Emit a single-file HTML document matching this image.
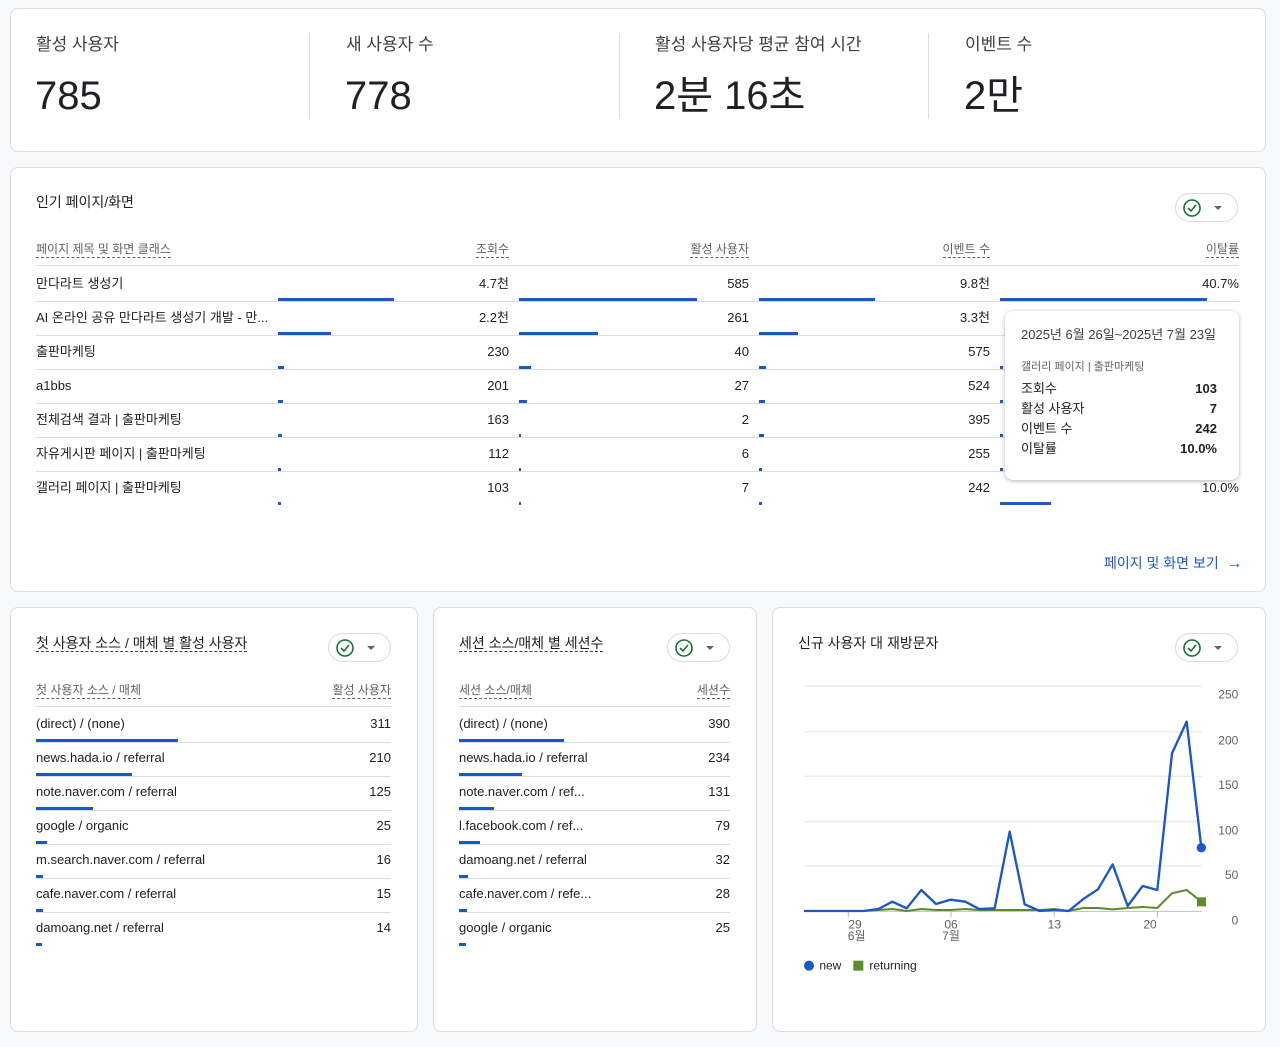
<!DOCTYPE html>
<html><head><meta charset="utf-8">
<style>
*{box-sizing:border-box;margin:0;padding:0}
body{width:1280px;height:1047px;background:#f8f9fa;font-family:"Liberation Sans","Noto Sans CJK KR",sans-serif;color:#202124;position:relative;overflow:hidden}
.card{position:absolute;background:#fff;border:1px solid #dadce0;border-radius:8px}
.abs{position:absolute;white-space:nowrap;line-height:18px;height:18px}
.lbl{font-size:17px;color:#3c4043}
.val{font-size:40px;color:#202124;line-height:44px;height:44px}
.vsep{position:absolute;width:1px;background:#dadce0}
.t{font-size:13px}
.h{font-size:12px;color:#5f6368;border-bottom:1px dashed #5f6368;padding-bottom:1px}
.hl{position:absolute;height:1px;background:#dadce0}
.bar{position:absolute;height:3px;background:#1a57c9}
.r{text-align:right}
.btn{position:absolute;width:63px;height:29px;border:1px solid #dadce0;border-radius:15px;background:#fff}
.tip{z-index:10}
</style></head><body>

<div class="card" style="left:10px;top:8px;width:1256px;height:144px"></div>
<div class="abs lbl" style="left:36px;top:36px">활성 사용자</div>
<div class="abs val" style="left:35px;top:74px">785</div>
<div class="vsep" style="left:309px;top:33px;height:86px"></div>
<div class="abs lbl" style="left:346px;top:36px">새 사용자 수</div>
<div class="abs val" style="left:345px;top:74px">778</div>
<div class="vsep" style="left:619px;top:33px;height:86px"></div>
<div class="abs lbl" style="left:655px;top:36px">활성 사용자당 평균 참여 시간</div>
<div class="abs val" style="left:654px;top:74px">2분 16초</div>
<div class="vsep" style="left:928px;top:33px;height:86px"></div>
<div class="abs lbl" style="left:965px;top:36px">이벤트 수</div>
<div class="abs val" style="left:964px;top:74px">2만</div>

<div class="card" style="left:10px;top:167px;width:1256px;height:425px"></div>
<div class="abs" style="left:36px;top:193px;font-size:14px">인기 페이지/화면</div>

<div class="card" style="left:10px;top:607px;width:408px;height:425px"></div>
<div class="card" style="left:433px;top:607px;width:324px;height:425px"></div>
<div class="card" style="left:772px;top:607px;width:494px;height:425px"></div>
<div class="abs" style="left:1104px;top:554px;font-size:14px;color:#1a57c9">페이지 및 화면 보기 &nbsp;<span style="font-size:16px">→</span></div>

<svg style="position:absolute;left:780px;top:680px" width="480" height="300" viewBox="0 0 1440 900">
<g stroke="#e8eaed" stroke-width="4">
<line x1="72" y1="18" x2="1265" y2="18"/><line x1="72" y1="155" x2="1265" y2="155"/><line x1="72" y1="289" x2="1265" y2="289"/><line x1="72" y1="425" x2="1265" y2="425"/><line x1="72" y1="558" x2="1265" y2="558"/></g>
<line x1="72" y1="694" x2="1265" y2="694" stroke="#c0c0c0" stroke-width="3"/>
<g stroke="#bbb" stroke-width="3"><line x1="205" y1="694" x2="205" y2="712"/><line x1="513" y1="694" x2="513" y2="712"/><line x1="823" y1="694" x2="823" y2="712"/><line x1="1132" y1="694" x2="1132" y2="712"/></g>
<polyline fill="none" stroke="#5b8a2f" stroke-width="6" points="72,693 250,693 295,690 337,687 380,693 424,687 468,690 512,690 556,687 598,690 779,690 824,687 866,693 910,684 954,684 998,688 1043,684 1088,681 1132,684 1176,640 1220,630 1264,665"/>
<polyline fill="none" stroke="#1a57c9" stroke-width="7" stroke-linejoin="round" points="72,693 250,693 295,687 337,665 380,685 424,630 468,672 512,659 556,665 598,687 644,685 689,455 734,673 779,693 824,690 866,693 910,657 954,628 998,553 1043,678 1088,618 1132,630 1176,220 1220,125 1264,503"/>
<circle cx="1264" cy="503" r="14" fill="#1a57c9"/>
<rect x="1251" y="652" width="27" height="27" fill="#5b8a2f"/>
<g font-family="Liberation Sans" font-size="36" fill="#5f6368" text-anchor="end">
<text x="1375" y="56">250</text><text x="1375" y="193">200</text><text x="1375" y="327">150</text><text x="1375" y="463">100</text><text x="1375" y="597">50</text><text x="1375" y="733">0</text></g>
<g font-family="Liberation Sans,Noto Sans CJK KR" font-size="36" fill="#5f6368" text-anchor="middle">
<text x="225" y="745">29</text><text x="230" y="780">6월</text><text x="513" y="745">06</text><text x="513" y="780">7월</text><text x="823" y="745">13</text><text x="1110" y="745">20</text></g>
<circle cx="87" cy="857" r="15" fill="#1a57c9"/><text x="118" y="869" font-family="Liberation Sans" font-size="36" fill="#202124">new</text>
<rect x="220" y="842" width="30" height="30" fill="#5b8a2f"/><text x="268" y="869" font-family="Liberation Sans" font-size="36" fill="#202124">returning</text>
</svg>
<div class="abs" style="left:798px;top:634px;font-size:14px">신규 사용자 대 재방문자</div>

<div class="card tip" style="left:1005px;top:311px;width:234px;height:169px;box-shadow:0 1px 4px rgba(0,0,0,.3);border:none"></div>
<div class="abs tip" style="left:1021px;top:326px;font-size:13px;color:#3c4043">2025년 6월 26일~2025년 7월 23일</div>
<div class="abs tip" style="left:1021px;top:358px;font-size:11px;color:#5f6368">갤러리 페이지 | 출판마케팅</div>
<div class="abs t tip" style="left:1021px;top:380px">조회수</div><div class="abs t r tip" style="left:1150px;width:67px;top:380px;font-weight:bold">103</div>
<div class="abs t tip" style="left:1021px;top:400px">활성 사용자</div><div class="abs t r tip" style="left:1150px;width:67px;top:400px;font-weight:bold">7</div>
<div class="abs t tip" style="left:1021px;top:420px">이벤트 수</div><div class="abs t r tip" style="left:1150px;width:67px;top:420px;font-weight:bold">242</div>
<div class="abs t tip" style="left:1021px;top:440px">이탈률</div><div class="abs t r tip" style="left:1150px;width:67px;top:440px;font-weight:bold">10.0%</div>

<script>
function e(h){document.body.insertAdjacentHTML('beforeend',h)}
function btn(x,y){e(`<div class="btn" style="left:${x}px;top:${y}px"></div><svg style="position:absolute;left:${x+8}px;top:${y+5}px" width="50" height="20"><circle cx="9" cy="10" r="8" fill="none" stroke="#137333" stroke-width="1.6"/><polyline points="5,10 8,13 13,7" fill="none" stroke="#137333" stroke-width="1.6"/><polygon points="31,8 39,8 35,12" fill="#5f6368"/></svg>`)}
btn(1175,193);
var cols=[[278,509],[519,749],[759,990],[1000,1239]];
var hd=['조회수','활성 사용자','이벤트 수','이탈률'];
e(`<div class="abs h" style="left:36px;top:240px">페이지 제목 및 화면 클래스</div>`);
hd.forEach((h,i)=>e(`<div class="abs" style="right:${1280-cols[i][1]}px;top:240px"><span class="h">${h}</span></div>`));
e(`<div class="hl" style="left:36px;top:265px;width:1203px"></div>`);
var rows=[['만다라트 생성기','4.7천','585','9.8천','40.7%',[116,178,116,207]],
['AI 온라인 공유 만다라트 생성기 개발 - 만...','2.2천','261','3.3천','',[53,79,39,0]],
['출판마케팅','230','40','575','',[6,12,7,3]],
['a1bbs','201','27','524','',[5,8,6,3]],
['전체검색 결과 | 출판마케팅','163','2','395','',[4,2,5,3]],
['자유게시판 페이지 | 출판마케팅','112','6','255','',[3,2,3,3]],
['갤러리 페이지 | 출판마케팅','103','7','242','10.0%',[3,2,3,51]]];
rows.forEach((r,k)=>{var y=275+k*34;
e(`<div class="abs t" style="left:36px;top:${y}px">${r[0]}</div>`);
for(var i=0;i<4;i++){if(r[i+1])e(`<div class="abs t r" style="right:${1280-cols[i][1]}px;top:${y}px">${r[i+1]}</div>`);
e(`<div class="bar" style="left:${cols[i][0]}px;top:${y+23}px;width:${r[5][i]}px"></div>`)}
if(k<6)e(`<div class="hl" style="left:36px;top:${y+26}px;width:1203px"></div>`)});
function tbl(x0,x1,title,h1,h2,data,scale){
e(`<div class="abs" style="left:${x0}px;top:634px;font-size:14px"><span style="border-bottom:1px dashed #3c4043">${title}</span></div>`);
btn(x1-63,633);
e(`<div class="abs h" style="left:${x0}px;top:681px">${h1}</div><div class="abs" style="right:${1280-x1}px;top:681px"><span class="h">${h2}</span></div><div class="hl" style="left:${x0}px;top:706px;width:${x1-x0}px"></div>`);
data.forEach((d,k)=>{var y=715+k*34;
e(`<div class="abs t" style="left:${x0}px;top:${y}px">${d[0]}</div><div class="abs t r" style="right:${1280-x1}px;top:${y}px">${d[1]}</div><div class="bar" style="left:${x0}px;top:${y+24}px;width:${Math.max(3,d[1]*scale)}px"></div>`);
if(k<6)e(`<div class="hl" style="left:${x0}px;top:${y+27}px;width:${x1-x0}px"></div>`)})}
tbl(36,391,'첫 사용자 소스 / 매체 별 활성 사용자','첫 사용자 소스 / 매체','활성 사용자',[['(direct) / (none)',311],['news.hada.io / referral',210],['note.naver.com / referral',125],['google / organic',25],['m.search.naver.com / referral',16],['cafe.naver.com / referral',15],['damoang.net / referral',14]],0.457);
tbl(459,730,'세션 소스/매체 별 세션수','세션 소스/매체','세션수',[['(direct) / (none)',390],['news.hada.io / referral',234],['note.naver.com / ref...',131],['l.facebook.com / ref...',79],['damoang.net / referral',32],['cafe.naver.com / refe...',28],['google / organic',25]],0.27);
btn(1175,633);
</script>
</body></html>
